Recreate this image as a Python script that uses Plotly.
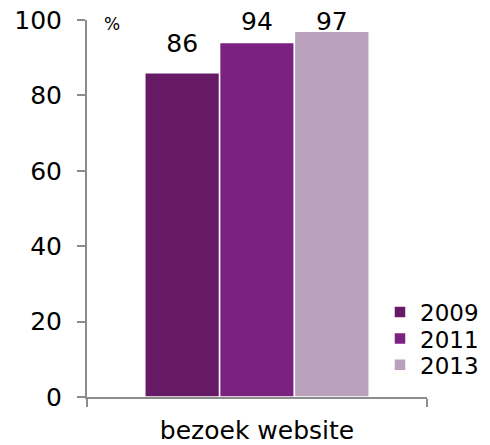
import plotly.graph_objects as go

categories = ["bezoek website"]
years = ["2009", "2011", "2013"]
values = [86, 94, 97]
colors = ["#661a66", "#7b2180", "#b9a1bb"]

FONT = "DejaVu Sans"
legend_names = ["legend", "legend2", "legend3"]
legend_y = [0.299, 0.239, 0.180]   # container fractions

fig = go.Figure()
for yr, v, c, lg in zip(years, values, colors, legend_names):
    fig.add_trace(go.Bar(
        x=categories, y=[v], name=yr, legend=lg,
        offsetgroup=yr, alignmentgroup="a",
        marker=dict(color=c, line=dict(color="white", width=1.5)),
    ))
# data labels, placed above each bar (kept inside the top of the chart area)
for yr, v, lg in zip(years, values, legend_names):
    fig.add_trace(go.Scatter(
        x=categories, y=[min(v + 7.1, 99.0)], mode="text",
        text=[str(v)], textposition="middle center",
        textfont=dict(family=FONT, size=25, color="black"),
        offsetgroup=yr, alignmentgroup="a",
        showlegend=False, hoverinfo="skip", cliponaxis=False, legend=lg,
    ))

legend_common = dict(x=0.7755, xref="container", yref="container",
                     xanchor="left", yanchor="middle",
                     font=dict(family=FONT, size=23, color="black"),
                     bgcolor="rgba(0,0,0,0)", itemwidth=30)

fig.update_layout(
    width=490, height=445,
    margin=dict(l=87, r=63, t=20, b=48, autoexpand=False),
    plot_bgcolor="white", paper_bgcolor="white",
    barmode="group", bargap=0.34, bargroupgap=0,
    scattermode="group", scattergap=0.34,
    font=dict(family=FONT, color="black"),
    showlegend=True,
    legend=dict(y=legend_y[0], **legend_common),
    legend2=dict(y=legend_y[1], **legend_common),
    legend3=dict(y=legend_y[2], **legend_common),
)
fig.update_yaxes(
    range=[0, 100], tickvals=[0, 20, 40, 60, 80, 100], automargin=False,
    showgrid=False, zeroline=False,
    showline=True, linecolor="#8c8c8c", linewidth=2,
    ticks="outside", ticklen=8, tickcolor="#8c8c8c", tickwidth=2,
    ticklabelstandoff=10,
    tickfont=dict(family=FONT, size=25, color="black"),
)
fig.update_xaxes(
    automargin=False,
    showgrid=False, showline=True, linecolor="#8c8c8c", linewidth=2,
    ticks="outside", tickson="boundaries", ticklen=8, tickcolor="#8c8c8c", tickwidth=2,
    ticklabelstandoff=10,
    tickfont=dict(family=FONT, size=25, color="black"),
)
fig.add_annotation(x=0.0735, y=0.989, xref="paper", yref="paper", text="%",
                   showarrow=False, xanchor="center", yanchor="middle",
                   font=dict(family=FONT, size=17, color="black"))

fig.write_html("out.html", config={"displayModeBar": False},
               post_script="document.body.style.margin='0';")
